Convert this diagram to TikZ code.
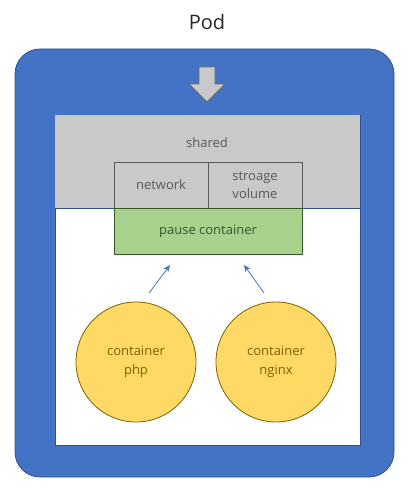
\documentclass[tikz,border=0pt]{standalone}
\usepackage{fontspec}
\setmainfont{Open Sans}
\usetikzlibrary{arrows.meta}
\definecolor{podblue}{HTML}{4472C4}
\definecolor{podedge}{HTML}{2F528F}
\definecolor{shgray}{HTML}{C9C9C9}
\definecolor{txgray}{HTML}{595959}
\definecolor{pgreen}{HTML}{A9D18E}
\definecolor{pgedge}{HTML}{385723}
\definecolor{cyell}{HTML}{FFD966}
\definecolor{cedge}{HTML}{7F6000}
\tikzset{
  lbl/.style={font=\fontsize{13}{15}\selectfont, align=center, inner sep=0pt},
  shbox/.style={draw=txgray, fill=shgray, line width=0.8pt},
  cont/.style={circle, draw=cedge, fill=cyell, line width=0.8pt, minimum size=120pt, inner sep=0pt, text=cedge, font=\fontsize{13}{19}\selectfont, align=center},
  link/.style={draw=podblue, line width=0.8pt, -{Stealth[length=7pt,width=6pt]}}
}
\begin{document}
\begin{tikzpicture}[x=1pt,y=-1pt]
\useasboundingbox (0,0) rectangle (411,489);
\node[font=\fontsize{20}{22}\selectfont, text=black!85] (title) at (207,22) {Pod};
\draw[fill=podblue, draw=podedge, line width=0.8pt, rounded corners=25pt] (15,49) rectangle (394,477);
\draw[fill=white, draw=podedge, line width=0.8pt] (55,115) rectangle (360,445);
\fill[shgray] (55.4,115.4) rectangle (359.6,208);
\draw[podedge, line width=0.8pt] (55,208) -- (360,208);
\draw[fill=shgray, draw=gray!80!black, line width=0.8pt] (199,67) -- (215,67) -- (215,84) -- (225,84) -- (207,102) -- (189,84) -- (199,84) -- cycle;
\node[lbl, text=txgray] (shared) at (207,143) {shared};
\draw[shbox] (114,162) rectangle (208,208);
\draw[shbox] (208,162) rectangle (302,208);
\node[lbl, text=txgray] (network) at (161,185) {network};
\node[lbl, text=txgray, font=\fontsize{13}{18}\selectfont] (storage) at (255,185) {stroage\\volume};
\node[draw=pgedge, fill=pgreen, line width=0.8pt, minimum width=188pt, minimum height=46pt, inner sep=0pt, text=pgedge, font=\fontsize{13}{15}\selectfont] (pause) at (208,231) {pause container};
\node[cont] (php) at (136,362) {container\\php};
\node[cont] (nginx) at (276,362) {container\\nginx};
\coordinate (a1s) at (149,293);
\coordinate (a1e) at (170,265);
\coordinate (a2s) at (264,293);
\coordinate (a2e) at (244,265);
\draw[link] (a1s) -- (a1e);
\draw[link] (a2s) -- (a2e);
\end{tikzpicture}
\end{document}
